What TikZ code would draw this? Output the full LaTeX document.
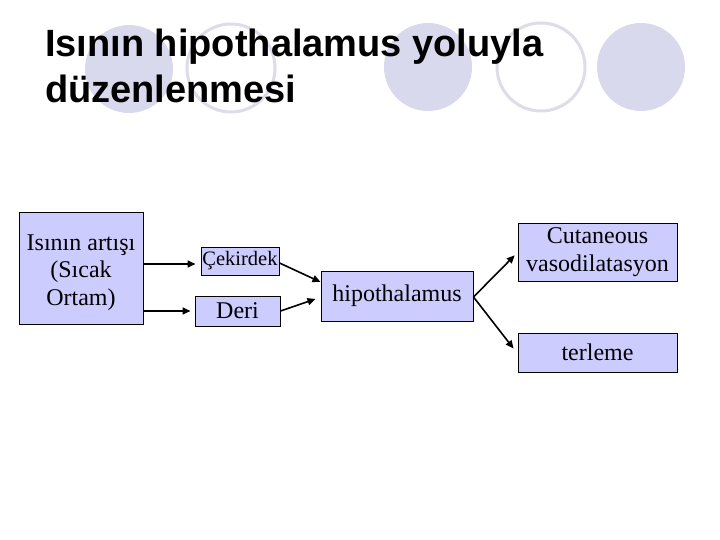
\documentclass[tikz,border=0pt]{standalone}
\usepackage{fontspec}
\setmainfont{Liberation Serif}
\newfontfamily\titlefont{Liberation Sans}
\usetikzlibrary{arrows.meta,calc}
\definecolor{circfill}{RGB}{217,217,237}
\definecolor{circline}{RGB}{220,220,235}
\definecolor{boxfill}{RGB}{204,204,255}
\tikzset{
  boxnode/.style={draw=black, line width=1pt, fill=boxfill, inner sep=0pt, align=center,
    font=\fontsize{24}{27.5}\selectfont},
  textonly/.style={inner sep=0pt, align=center, font=\fontsize{24}{27.5}\selectfont},
  arr/.style={line width=1.6pt, -{Triangle[length=8pt,width=7pt]}},
  titletext/.style={anchor=base west, inner sep=0pt, font=\titlefont\bfseries\fontsize{38}{44}\selectfont},
  dotfill/.style={fill=circfill, draw=none},
  dotring/.style={draw=circline, line width=3pt, fill=none}
}
\begin{document}
\begin{tikzpicture}[x=1pt,y=-1pt]
\useasboundingbox (0,0) rectangle (720,540);
\fill[white] (0,0) rectangle (720,540);
% decorative circles
\path[dotfill] (129,69) circle[radius=44];
\path[dotring] (231,68) circle[radius=44];
\path[dotfill] (428,67) circle[radius=44];
\path[dotring] (541,67) circle[radius=44];
\path[dotfill] (641,67) circle[radius=44];
% title
\node[titletext] (t1) at (45,57) {Isının hipothalamus yoluyla};
\node[titletext] (t2) at (45,103) {düzenlenmesi};
% boxes
\node[boxnode, minimum width=124pt, minimum height=111pt] (main) at (81,268.5) {};
\node[textonly] (maintext) at ([yshift=-4pt]main.center) {Isının artışı\\(Sıcak\\Ortam)};
\node[boxnode, minimum width=78pt, minimum height=28pt, font=\fontsize{20.5}{24}\selectfont] (cek) at (240,261) {Çekirdek};
\node[boxnode, minimum width=85pt, minimum height=30pt] (deri) at (237.5,311) {Deri};
\node[boxnode, minimum width=152pt, minimum height=50pt] (hipo) at (397,296) {hipothalamus};
\node[boxnode, minimum width=159pt, minimum height=57pt, font=\fontsize{24}{28}\selectfont] (cut) at (597.5,252.5) {Cutaneous\\vasodilatasyon};
\node[boxnode, minimum width=159pt, minimum height=39pt] (terl) at (597.5,352.5) {terleme};
% connectors
\draw[arr, shorten >=5pt] ([yshift=-3pt]main.east |- cek.west) -- ([yshift=-3pt]cek.west);
\draw[arr, shorten >=4pt] (main.east |- deri.west) -- (deri.west);
\draw[arr] ([yshift=-2pt]cek.east) -- ([yshift=14pt]hipo.west);
\draw[arr] (deri.east) -- ([xshift=-5pt,yshift=-3pt]hipo.west);
\draw[arr, shorten >=4pt] ([yshift=-1pt]hipo.east) -- (cut.west);
\draw[arr] ([yshift=-1pt]hipo.east) -- ([xshift=-4pt,yshift=4pt]terl.west);
\end{tikzpicture}
\end{document}
